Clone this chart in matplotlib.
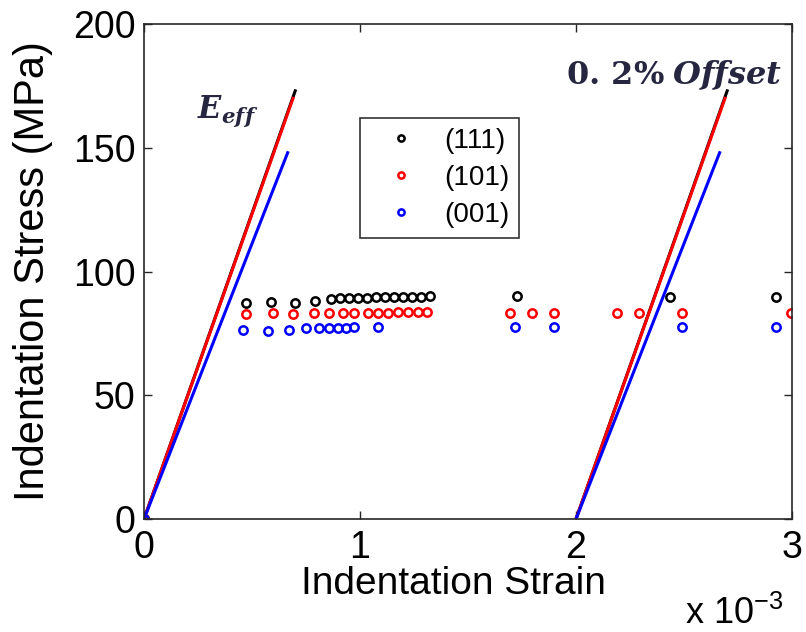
import matplotlib
matplotlib.use('Agg')

import matplotlib.pyplot as plt

plt.rcParams['font.family'] = ['Liberation Sans', 'DejaVu Sans']
plt.rcParams['mathtext.fontset'] = 'custom'
plt.rcParams['mathtext.rm'] = 'Liberation Sans'
plt.rcParams['mathtext.bf'] = 'DejaVu Serif:bold'
plt.rcParams['mathtext.bfit'] = 'DejaVu Serif:bold:italic'

# ==========================================
# DATA (strain in units of 1e-3, stress in MPa)
# ==========================================
labels = ["(111)", "(101)", "(001)"]
colors = ["black", "red", "blue"]

strain_111 = [0, 0.47, 0.59, 0.70, 0.79, 0.865, 0.907, 0.949, 0.991, 1.033, 1.074,
              1.116, 1.158, 1.200, 1.242, 1.284, 1.326, 1.726, 2.433, 2.926]
stress_111 = [0, 87.3, 87.6, 87.4, 88.0, 89.0, 89.1, 89.2, 89.3, 89.4, 89.5,
              89.6, 89.7, 89.8, 89.8, 89.9, 90.0, 90.3, 89.9, 89.9]

strain_101 = [0, 0.474, 0.595, 0.688, 0.785, 0.857, 0.920, 0.973, 1.035, 1.082, 1.128,
              1.175, 1.221, 1.268, 1.312, 1.693, 1.795, 1.898, 2.190, 2.293, 2.493, 2.995]
stress_101 = [0, 83.0, 83.1, 83.0, 83.2, 83.3, 83.2, 83.3, 83.4, 83.4, 83.4,
              83.5, 83.5, 83.5, 83.5, 83.4, 83.4, 83.3, 83.4, 83.4, 83.4, 83.4]

strain_001 = [0, 0.460, 0.572, 0.670, 0.749, 0.809, 0.856, 0.898, 0.935, 0.972, 1.084,
              1.716, 1.898, 2.493, 2.926]
stress_001 = [0, 76.5, 75.8, 76.4, 77.0, 77.2, 77.3, 77.2, 77.3, 77.4, 77.5,
              77.7, 77.7, 77.7, 77.7]

# elastic lines: top end of each line (start at 0 and at the 0.2% offset)
line_end_strain = [0.70, 0.69, 0.665]
line_end_stress = [173, 170, 148]
offset = 2.0

strains = [strain_111, strain_101, strain_001]
stresses = [stress_111, stress_101, stress_001]

# ==========================================
# FIGUR
# ==========================================
fig = plt.figure(figsize=(8.06, 6.32), dpi=100)
ax = fig.add_axes([0.1787, 0.1788, 0.8039, 0.7832])

for i in range(3):
    ax.plot(strains[i], stresses[i], linestyle='none', marker='o', markersize=6,
            markeredgewidth=1.8, markerfacecolor='none', markeredgecolor=colors[i],
            label=labels[i])
for i in range(3):
    ax.plot([0, line_end_strain[i]], [0, line_end_stress[i]], color=colors[i], lw=2.2)
    ax.plot([offset, offset + line_end_strain[i]], [0, line_end_stress[i]], color=colors[i], lw=2.2)
# origin markers on top
for i in range(3):
    ax.plot(strains[i][0], stresses[i][0], linestyle='none', marker='o', markersize=6,
            markeredgewidth=1.8, markerfacecolor='none', markeredgecolor=colors[i])

ax.set_xlim(0, 3)
ax.set_ylim(0, 200)
ax.set_xticks([0, 1, 2, 3])
ax.set_yticks([0, 50, 100, 150, 200])
ax.tick_params(direction='in', length=6, width=1, top=True, right=True,
               labelsize=27, colors='#262626')
ax.tick_params(axis='x', pad=8, labelcolor='black')
ax.tick_params(axis='y', pad=6, labelcolor='black')
for s in ax.spines.values():
    s.set_linewidth(1.2)
    s.set_color('#262626')

ax.set_xlabel("Indentation Strain", fontsize=28)
ax.xaxis.set_label_coords(0.477, -0.095)
ax.set_ylabel("Indentation Stress (MPa)", fontsize=30)
ax.yaxis.set_label_coords(-0.141, 0.5)

fig.text(685 / 806, 1 - 624 / 632, r"x 10$^{-3}$", fontsize=26, ha='left', va='baseline')

ax.text(0.082, 0.81, r"$\mathbfit{E}_{\mathbfit{eff}}$", transform=ax.transAxes,
        fontsize=22, color='#262640', ha='left', va='baseline')
ax.text(0.985, 0.879, r"$\mathbf{0.\,2\%}\;\mathbfit{Offset}$", transform=ax.transAxes,
        fontsize=23, color='#262640', ha='right', va='baseline')

leg = ax.legend(loc='upper left', bbox_to_anchor=(0.333, 0.81), fontsize=20,
                frameon=True, fancybox=False, edgecolor='black', borderpad=0.35,
                borderaxespad=0, handlelength=2.3, handletextpad=0.4,
                labelspacing=0.4, markerscale=0.75)
leg.get_frame().set_linewidth(1.2)

plt.savefig("out.png", dpi=100)
plt.close()
